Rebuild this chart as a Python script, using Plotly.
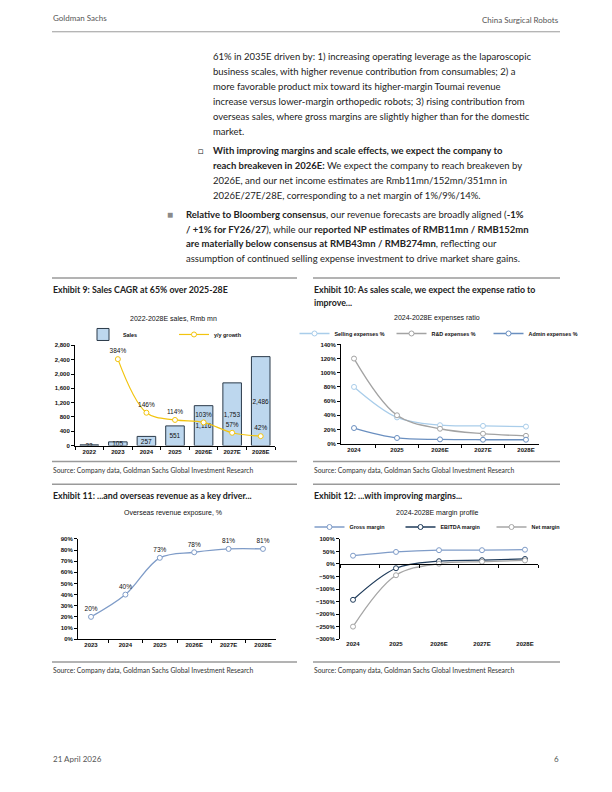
import plotly.graph_objects as go

# ---------------- data ----------------
years_sales = ["2022", "2023", "2024", "2025", "2026E", "2027E", "2028E"]
sales = [22, 105, 257, 551, 1116, 1753, 2486]
growth_years = ["2023", "2024", "2025", "2026E", "2027E", "2028E"]
growth = [384, 146, 114, 103, 57, 42]

years_exp = ["2024", "2025", "2026E", "2027E", "2028E"]
selling = [80, 37, 26, 25, 24]
rnd = [120, 40, 21, 14, 11]
admin = [22, 8, 6, 5.5, 5.5]

years_ovs = ["2023", "2024", "2025", "2026E", "2027E", "2028E"]
overseas = [20, 40, 73, 78, 81, 81]

years_mgn = ["2024", "2025", "2026E", "2027E", "2028E"]
gross = [33, 48, 55, 55, 57]
ebitda = [-143, -17, 11, 15, 20]
net = [-250, -45, 1, 9, 14]

W, H = 612, 792
def X(p): return p / W
def Y(p): return 1 - p / H

CF = "Liberation Sans"
BF = "Lato"

fig = go.Figure()

# ---------- Exhibit 9 ----------
fig.add_trace(go.Bar(
    x=years_sales, y=sales, name="Sales", xaxis="x", yaxis="y",
    marker=dict(color="#BDD7EE", line=dict(color="#2B3A4A", width=1)),
    width=0.65,
    text=[f"{v:,}" for v in sales], textposition="inside", textangle=0,
    insidetextanchor="middle", textfont=dict(size=6.5, color="#111", family=CF),
    legend="legend"))
fig.add_trace(go.Scatter(
    x=growth_years, y=growth, name="y/y growth", xaxis="x", yaxis="y2",
    mode="lines+markers+text", line=dict(color="#F2C40F", width=1.2, shape="spline"),
    marker=dict(symbol="circle", size=5, color="white", line=dict(color="#F2C40F", width=1)),
    text=[f"{v}%" for v in growth], textposition="top center", cliponaxis=False,
    textfont=dict(size=6.5, color="#111", family=CF), legend="legend"))

# ---------- Exhibit 10 ----------
for nm, vals, col in [("Selling expenses %", selling, "#A9CDEA"),
                      ("R&D expenses %", rnd, "#A3A3A3"),
                      ("Admin expenses %", admin, "#6A8FC0")]:
    fig.add_trace(go.Scatter(
        x=years_exp, y=vals, name=nm, xaxis="x3", yaxis="y3",
        mode="lines+markers", line=dict(color=col, width=1.3, shape="spline"),
        marker=dict(symbol="circle", size=5, color="white", line=dict(color=col, width=1)),
        cliponaxis=False, legend="legend2"))

# ---------- Exhibit 11 ----------
fig.add_trace(go.Scatter(
    x=years_ovs, y=overseas, name="Overseas", xaxis="x4", yaxis="y4",
    mode="lines+markers+text", line=dict(color="#7F9CC8", width=1.3, shape="spline"),
    marker=dict(symbol="circle", size=5, color="white", line=dict(color="#7F9CC8", width=1)),
    text=[f"{v}%" for v in overseas], textposition="top center", cliponaxis=False,
    textfont=dict(size=6.5, color="#111", family=CF), showlegend=False))

# ---------- Exhibit 12 ----------
for nm, vals, col in [("Gross margin", gross, "#7F9CC8"),
                      ("EBITDA margin", ebitda, "#1F3B5A"),
                      ("Net margin", net, "#A6A6A6")]:
    fig.add_trace(go.Scatter(
        x=years_mgn, y=vals, name=nm, xaxis="x5", yaxis="y5",
        mode="lines+markers", line=dict(color=col, width=1.3, shape="spline"),
        marker=dict(symbol="circle", size=5, color="white", line=dict(color=col, width=1)),
        cliponaxis=False, legend="legend3"))

tickfont = dict(size=6, color="#111", family=CF, weight="bold")
def xax(dom, anchor):
    return dict(domain=dom, anchor=anchor, type="category", showline=True, linecolor="black",
                linewidth=1, ticks="outside", ticklen=3, tickcolor="black", tickson="boundaries",
                tickfont=tickfont, showgrid=False, zeroline=False, fixedrange=True)
def yax(dom, anchor, rng, dtick, suffix="", fmt=None):
    d = dict(domain=dom, anchor=anchor, range=rng, dtick=dtick, showline=True, linecolor="black",
             linewidth=1, ticks="outside", ticklen=3, tickcolor="black", tickfont=tickfont,
             showgrid=False, zeroline=False, ticksuffix=suffix)
    if fmt: d["tickformat"] = fmt
    return d

d1x = [X(75), X(275)]; d1y = [Y(446), Y(345)]
d2x = [X(341), X(539)]; d2y = [Y(444), Y(344)]
d3x = [X(78), X(276)]; d3y = [Y(641), Y(540)]
d4x = [X(340), X(538)]; d4y = [Y(641), Y(540)]

zero_pos = d4y[0] + (d4y[1] - d4y[0]) * (0 - (-300)) / 400

legfont = dict(size=5.4, family=CF, color="#111", weight="bold")
fig.update_layout(
    width=W, height=H, margin=dict(l=0, r=0, t=0, b=0),
    paper_bgcolor="white", plot_bgcolor="white",
    uniformtext=dict(minsize=6, mode="show"),
    xaxis=xax(d1x, "y"),
    yaxis=yax(d1y, "x", [0, 2800], 400, fmt=","),
    yaxis2=dict(overlaying="y", range=[0, 445], visible=False, anchor="x"),
    xaxis3=xax(d2x, "y3"),
    yaxis3=yax(d2y, "x3", [0, 140], 20, "%"),
    xaxis4=xax(d3x, "y4"),
    yaxis4=yax(d3y, "x4", [0, 90], 10, "%"),
    xaxis5=dict(xax(d4x, "y5"), showline=False, ticks=""),
    yaxis5=yax(d4y, "x5", [-300, 100], 50, "%"),
    xaxis6=dict(overlaying="x5", anchor="free", position=zero_pos, range=[-0.5, 4.5],
                showline=True, linecolor="black", linewidth=1, ticks="outside", ticklen=3,
                tickcolor="black", tickvals=[-0.5, 0.5, 1.5, 2.5, 3.5, 4.5],
                showticklabels=False, showgrid=False, zeroline=False),
    legend=dict(x=X(174), y=Y(334), xanchor="center", yanchor="middle", orientation="h",
                font=legfont, bgcolor="rgba(0,0,0,0)", itemwidth=30,
                entrywidth=46, entrywidthmode="pixels"),
    legend2=dict(x=X(440), y=Y(333), xanchor="center", yanchor="middle", orientation="h",
                 font=legfont, bgcolor="rgba(0,0,0,0)", itemwidth=30,
                 entrywidth=52, entrywidthmode="pixels"),
    legend3=dict(x=X(446), y=Y(528), xanchor="center", yanchor="middle", orientation="h",
                 font=legfont, bgcolor="rgba(0,0,0,0)", itemwidth=30,
                 entrywidth=46, entrywidthmode="pixels"),
)
# dummy trace so the zero-line axis renders
fig.add_trace(go.Scatter(x=[None], y=[None], xaxis="x6", yaxis="y5", showlegend=False,
                         hoverinfo="skip"))

ann = []
def txt(x, y, s, size=9.5, color="#222", family=BF, anchor="left", **kw):
    ann.append(dict(x=X(x), y=Y(y), xref="paper", yref="paper", text=s, showarrow=False,
                    xanchor=anchor, yanchor="middle", align=anchor,
                    font=dict(size=size, color=color, family=family, **kw)))

# header / footer
txt(51, 15, "Goldman Sachs", size=8, color="#555")
txt(561, 17, "China Surgical Robots", size=8, color="#555", anchor="right")
txt(51, 762, "21 April 2026", size=8, color="#555")
txt(561, 762, "6", size=8, color="#555", anchor="right")

para1 = ["61% in 2035E driven by: 1) increasing operating leverage as the laparoscopic",
         "business scales, with higher revenue contribution from consumables; 2) a",
         "more favorable product mix toward its higher-margin Toumai revenue",
         "increase versus lower-margin orthopedic robots; 3) rising contribution from",
         "overseas sales, where gross margins are slightly higher than for the domestic",
         "market."]
for i, s in enumerate(para1):
    txt(211, 54 + i * 15, s)

sub = ["<b>With improving margins and scale effects, we expect the company to</b>",
       "<b>reach breakeven in 2026E:</b> We expect the company to reach breakeven by",
       "2026E, and our net income estimates are Rmb11mn/152mn/351mn in",
       "2026E/27E/28E, corresponding to a net margin of 1%/9%/14%."]
txt(196, 149, "□", size=9)
for i, s in enumerate(sub):
    txt(211, 149 + i * 15, s)

main = ["<b>Relative to Bloomberg consensus</b>, our revenue forecasts are broadly aligned (<b>-1%</b>",
        "<b>/ +1% for FY26/27</b>), while our <b>reported NP estimates of RMB11mn / RMB152mn</b>",
        "<b>are materially below consensus at RMB43mn / RMB274mn</b>, reflecting our",
        "assumption of continued selling expense investment to drive market share gains."]
txt(165, 213, "■", size=10, color="#8A8A8A")
for i, s in enumerate(main):
    txt(184, 213 + i * 14.8, s)

# exhibit titles
ET = 8.8
txt(51, 289, "<b>Exhibit 9: Sales CAGR at 65% over 2025-28E</b>", size=ET)
txt(312, 289, "<b>Exhibit 10: As sales scale, we expect the expense ratio to</b>", size=ET)
txt(312, 302, "<b>improve...</b>", size=ET)
txt(51, 496, "<b>Exhibit 11: ...and overseas revenue as a key driver...</b>", size=ET)
txt(312, 496, "<b>Exhibit 12: ...with improving margins...</b>", size=ET)

# chart titles
txt(173, 318, "2022-2028E sales, Rmb mn", size=7, family=CF, color="#111", anchor="center")
txt(437, 317, "2024-2028E expenses ratio", size=7, family=CF, color="#111", anchor="center")
txt(173, 514, "Overseas revenue exposure, %", size=7, family=CF, color="#111", anchor="center")
txt(437, 514, "2024-2028E margin profile", size=7, family=CF, color="#111", anchor="center")

src = "Source: Company data, Goldman Sachs Global Investment Research"
for sx, sy in [(51, 471), (312, 471), (51, 673), (312, 673)]:
    txt(sx, sy, src, size=6.8, color="#333")

fig.update_layout(annotations=ann)

shapes = []
def hline(x0, x1, y, col="#9A9A9A", w=1.5):
    shapes.append(dict(type="line", xref="paper", yref="paper", x0=X(x0), x1=X(x1),
                       y0=Y(y), y1=Y(y), line=dict(color=col, width=w)))
hline(52, 560, 29, w=1)
for y in [277, 462, 485, 664]:
    hline(52, 297, y)
    hline(313, 560, y)
fig.update_layout(shapes=shapes)

fig.write_html("out.html", config={"displayModeBar": False},
               post_script="document.body.style.margin='0';document.body.style.overflow='hidden';")
